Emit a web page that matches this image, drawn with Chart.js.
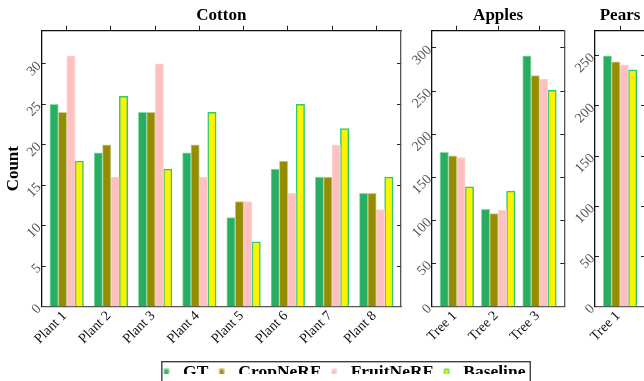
<!DOCTYPE html>
<html><head><meta charset="utf-8">
<script src="https://cdn.jsdelivr.net/npm/chart.js@4/dist/chart.umd.min.js"></script>
<style>
html,body{margin:0;padding:0;background:#fff;width:644px;height:381px;overflow:hidden;position:relative}
canvas{position:absolute}
</style></head><body>
<canvas id="cotton" width="420" height="355" style="left:0px;top:0px"></canvas>
<canvas id="apples" width="180" height="355" style="left:400px;top:0px"></canvas>
<canvas id="pears" width="95" height="355" style="left:565px;top:0px"></canvas>
<canvas id="legend" width="600" height="40" style="left:44px;top:354px"></canvas>
<script>
// ---- data ----
const seriesNames = ['GT', 'CropNeRF', 'FruitNeRF', 'Baseline'];

const cottonCategories = ['Plant 1', 'Plant 2', 'Plant 3', 'Plant 4', 'Plant 5', 'Plant 6', 'Plant 7', 'Plant 8'];
const cottonGT        = [25, 19, 24, 19, 11, 17, 16, 14];
const cottonCropNeRF  = [24, 20, 24, 20, 13, 18, 16, 14];
const cottonFruitNeRF = [31, 16, 30, 16, 13, 14, 20, 12];
const cottonBaseline  = [18, 26, 17, 24,  8, 25, 22, 16];
const cottonYTicks = [0, 5, 10, 15, 20, 25, 30];

const appleCategories = ['Tree 1', 'Tree 2', 'Tree 3'];
const appleGT        = [179, 113, 291];
const appleCropNeRF  = [175, 108, 268];
const appleFruitNeRF = [173, 112, 264];
const appleBaseline  = [139, 134, 251];
const appleYTicks = [0, 50, 100, 150, 200, 250, 300];

const pearCategories = ['Tree 1'];
const pearGT        = [250];
const pearCropNeRF  = [244];
const pearFruitNeRF = [241];
const pearBaseline  = [236];
const pearYTicks = [0, 50, 100, 150, 200, 250];

// ---- styles ----
const FONT = '"Liberation Serif", "Times New Roman", "DejaVu Serif", serif';
const fills = ['#27ae60', '#968c00', '#ffc0c0', '#fff200'];
const edges = ['#8edcac', '#cfcb95', '#ffd6d6', '#2ecc71'];
const edgeW = [1, 1, 1, 1.5];
const CHART_BOTTOM = 306.7;

function panel(id, title, cats, series, yMax, yTicks, yW, padR, xMin, xMax, showYTitle) {
  const el = document.getElementById(id);
  const H = el.height;
  const datasets = series.map((vals, k) => ({
    label: seriesNames[k],
    data: vals.map((v, i) => ({x: i, y: v})),
    backgroundColor: fills[k],
    borderColor: edges[k],
    borderWidth: edgeW[k],
    borderSkipped: 'start',
    barThickness: 8.4,
    xAxisID: 'x', yAxisID: 'y'
  }));
  const catTicks = s => { s.ticks = cats.map((_, i) => ({value: i})); };
  const valTicks = s => { s.ticks = yTicks.map(v => ({value: v})); };
  return new Chart(el, {
    type: 'bar',
    data: {datasets},
    options: {
      responsive: false, animation: false, devicePixelRatio: 1,
      layout: {padding: {left: 0, right: padR, top: 0, bottom: 0}},
      plugins: {
        legend: {display: false}, tooltip: {enabled: false},
        title: {display: true, text: title, fullSize: false, color: '#000',
          font: {family: FONT, size: 17, weight: 'bold', lineHeight: 1.2},
          padding: {top: 5, bottom: 5.3}}
      },
      scales: {
        x: {type: 'linear', position: 'bottom', min: xMin, max: xMax, offset: false,
          afterBuildTicks: catTicks,
          afterFit: s => { s.height = H - CHART_BOTTOM; },
          ticks: {autoSkip: false, minRotation: 45, maxRotation: 45, padding: 1, labelOffset: -2, color: '#111',
            font: {family: FONT, size: 14}, callback: v => cats[v]},
          grid: {display: true, offset: false, drawOnChartArea: false, drawTicks: false},
          border: {display: true, color: '#555', width: 1.3}},
        x2: {type: 'linear', position: 'top', min: xMin, max: xMax, offset: false,
          afterBuildTicks: catTicks,
          afterFit: s => { s.height = 0; },
          ticks: {display: false},
          grid: {display: true, offset: false, drawOnChartArea: false, drawTicks: true, tickLength: 5, color: '#222', lineWidth: 1},
          border: {display: true, color: '#111', width: 1.3}},
        y: {type: 'linear', position: 'left', min: 0, max: yMax,
          afterBuildTicks: valTicks,
          afterFit: s => { s.width = yW; },
          ticks: {minRotation: 45, maxRotation: 45, padding: 6.5, color: '#555', font: {family: FONT, size: 14}},
          grid: {display: true, drawOnChartArea: false, drawTicks: true, tickLength: -4, color: '#222', lineWidth: 1},
          border: {display: true, color: '#111', width: 1.3},
          title: {display: showYTitle, text: 'Count', color: '#000',
            font: {family: FONT, size: 17, weight: 'bold', lineHeight: 1.2}, padding: {top: 3.5, bottom: 0}}},
        y2: {type: 'linear', position: 'right', min: 0, max: yMax,
          afterBuildTicks: valTicks,
          afterFit: s => { s.width = 0; },
          ticks: {display: false},
          grid: {display: true, drawOnChartArea: false, drawTicks: true, tickLength: -4, color: '#222', lineWidth: 1},
          border: {display: true, color: '#555', width: 1.3}}
      }
    }
  });
}

panel('cotton', 'Cotton', cottonCategories,
  [cottonGT, cottonCropNeRF, cottonFruitNeRF, cottonBaseline], 34.1, cottonYTicks, 41.7, 19, -0.565, 7.56, true);
panel('apples', 'Apples', appleCategories,
  [appleGT, appleCropNeRF, appleFruitNeRF, appleBaseline], 320, appleYTicks, 32, 15.7, -0.6, 2.6, false);
panel('pears', 'Pears', pearCategories,
  [pearGT, pearCropNeRF, pearFruitNeRF, pearBaseline], 275, pearYTicks, 30, 15, -0.5, 0.5, false);

// ---- legend ----
function markerImg(k) {
  const c = document.createElement('canvas');
  c.width = 12; c.height = 14;
  const g = c.getContext('2d');
  g.fillStyle = fills[k];
  g.fillRect(1.5, 3.5, 5, 6.5);
  g.strokeStyle = edges[k];
  g.lineWidth = 1;
  g.strokeRect(2, 4, 4, 5.5);
  return c;
}
const legendFrame = {
  id: 'legendFrame',
  afterDraw(chart) {
    const hb = chart.legend.legendHitBoxes;
    if (!hb || !hb.length) return;
    const l = hb[0].left, last = hb[hb.length - 1];
    const r = last.left + last.width;
    const t = hb[0].top;
    const c = chart.ctx;
    c.save();
    c.strokeStyle = '#333';
    c.lineWidth = 1.3;
    c.strokeRect(l - 0.7, t - 1.8, r - l + 5.5, 40);
    c.restore();
  }
};
new Chart(document.getElementById('legend'), {
  type: 'bar',
  data: {labels: [], datasets: seriesNames.map((n, k) => ({label: n, data: [], backgroundColor: fills[k], borderColor: edges[k]}))},
  options: {
    responsive: false, animation: false, devicePixelRatio: 1,
    layout: {padding: 0},
    scales: {x: {display: false}, y: {display: false}},
    plugins: {
      tooltip: {enabled: false},
      legend: {display: true, position: 'top', align: 'center',
        labels: {usePointStyle: true, pointStyleWidth: 11.75, boxHeight: 10, padding: 9.5, color: '#000',
          font: {family: FONT, size: 17.5, weight: 'bold'},
          generateLabels: chart => chart.data.datasets.map((d, i) => ({
            text: d.label, fillStyle: d.backgroundColor, strokeStyle: d.borderColor, lineWidth: 0,
            pointStyle: markerImg(i), hidden: false, datasetIndex: i, fontColor: '#000'}))}}
    }
  },
  plugins: [legendFrame]
});
</script>
</body></html>
